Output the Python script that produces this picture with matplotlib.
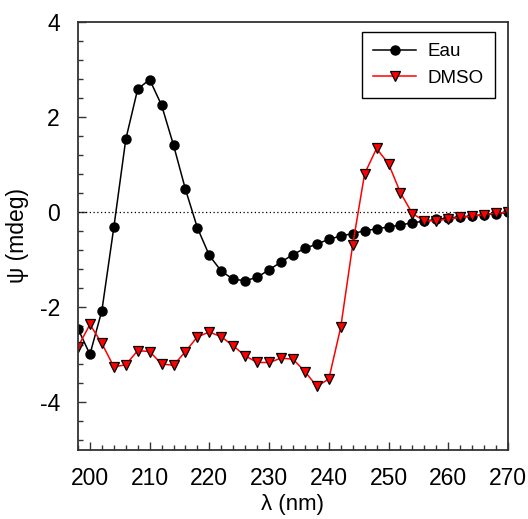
import matplotlib
matplotlib.use("Agg")
import matplotlib.pyplot as plt
from matplotlib.ticker import MultipleLocator

plt.rcParams.update({"font.family": ["Liberation Sans", "DejaVu Sans"]})

wavelength = list(range(198, 272, 2))
eau = [-2.45, -2.99, -2.07, -0.32, 1.53, 2.59, 2.79, 2.25, 1.41, 0.48,
       -0.33, -0.91, -1.24, -1.41, -1.44, -1.37, -1.21, -1.05, -0.89, -0.76,
       -0.67, -0.57, -0.50, -0.45, -0.39, -0.35, -0.31, -0.27, -0.22, -0.19,
       -0.15, -0.12, -0.10, -0.08, -0.05, -0.03, 0.0]
dmso = [-2.83, -2.36, -2.76, -3.25, -3.21, -2.91, -2.93, -3.19, -3.22, -2.93,
        -2.62, -2.52, -2.62, -2.81, -3.02, -3.16, -3.16, -3.07, -3.09, -3.35,
        -3.66, -3.51, -2.42, -0.69, 0.81, 1.34, 1.02, 0.41, -0.03, -0.18,
        -0.18, -0.14, -0.11, -0.08, -0.05, -0.02, 0.0]

fig = plt.figure(figsize=(5.28, 5.19), dpi=100)
ax = fig.add_axes([0.1477, 0.133, 0.8143, 0.8246])

ax.plot([198, 270], [0, 0], ls=(0, (1, 2)), color="black", lw=0.9)
ax.plot(wavelength, eau, "o-", color="black", lw=1.1, ms=6.5, label="Eau")
ax.plot(wavelength, dmso, "v-", color="red", mfc="red", mec="black", mew=0.9,
        lw=1.1, ms=6.5, label="DMSO")

ax.set_xlim(198, 270)
ax.set_ylim(-5, 4)
ax.xaxis.set_major_locator(MultipleLocator(10))
ax.xaxis.set_minor_locator(MultipleLocator(2))
ax.yaxis.set_major_locator(MultipleLocator(2))
ax.yaxis.set_minor_locator(MultipleLocator(0.4))
ax.tick_params(which="both", direction="in", color="#333333", width=1.0)
ax.tick_params(which="major", length=6, labelsize=16.5)
ax.tick_params(axis="x", which="major", pad=12)
ax.tick_params(axis="y", which="major", pad=13)
ax.tick_params(which="minor", length=3.5)
ax.yaxis.set_major_formatter(plt.FuncFormatter(lambda v, p: f"{v:g}".replace("\u2212", "-")))
for s in ax.spines.values():
    s.set_color("#333333")
    s.set_linewidth(1.3)

ax.set_xlabel("\u03bb (nm)", fontsize=16, labelpad=3)
ax.set_ylabel("\u03c8 (mdeg)", fontsize=16.5, labelpad=8)

leg = ax.legend(loc="upper right", bbox_to_anchor=(0.97, 0.977), fontsize=13.5,
                fancybox=False, framealpha=1, edgecolor="black", handlelength=2.3,
                borderaxespad=0, borderpad=0.6, labelspacing=0.5, handletextpad=0.6)
leg.get_frame().set_linewidth(1.0)

fig.savefig("out.png", dpi=100)
